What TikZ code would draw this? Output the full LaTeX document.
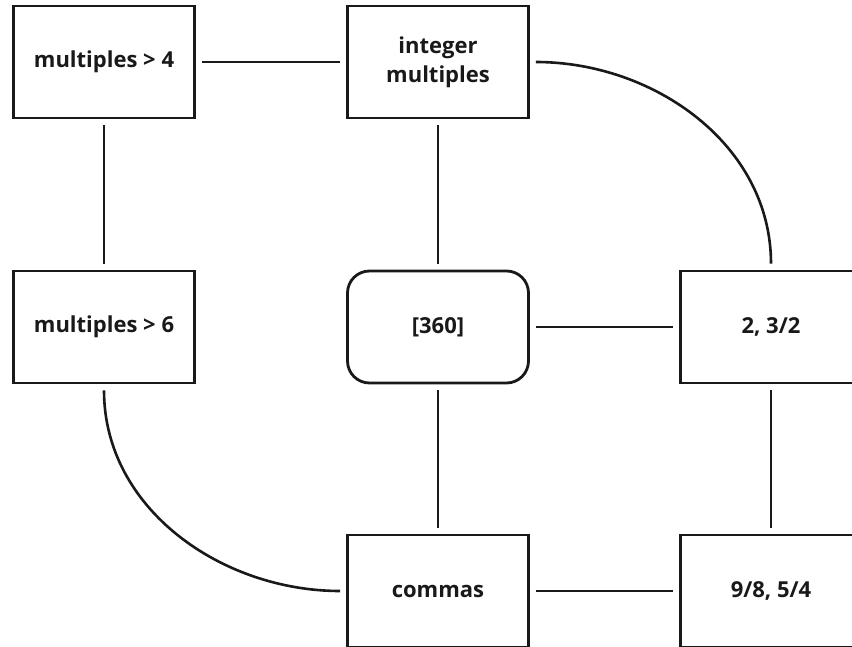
\documentclass[tikz,border=0pt]{standalone}
\usepackage{fontspec}
\setmainfont{Open Sans}
\usetikzlibrary{positioning}

\tikzset{
  box/.style={draw, line width=2.8pt, minimum width=181pt, minimum height=112pt,
    align=center, font=\fontsize{22}{29}\selectfont\bfseries, text=black!90},
  rbox/.style={box, rounded corners=22pt},
  link/.style={line width=2.6pt, shorten >=6pt, shorten <=6pt}
}

\begin{document}
\begin{tikzpicture}[x=1pt, y=-1pt, color=black!90]
    \useasboundingbox (0,0) rectangle (852,647);
    \clip (0,0) rectangle (852,647);

    % Top row
    \node[box] (mfour) at (104,62) {multiples > 4};
    \node[box] (intmul) at (438,62) {integer\\multiples};

    % Middle row
    \node[box] (msix) at (104,327) {multiples > 6};
    \node[rbox] (full) at (438,327) {[360]};
    \node[box] (octave) at (771,327) {2, 3/2};

    % Bottom row
    \node[box] (commas) at (438,591) {commas};
    \node[box] (steps) at (771,591) {9/8, 5/4};

    % Straight links
    \draw[link] (mfour) -- (intmul);
    \draw[link] (mfour) -- (msix);
    \draw[link] (intmul) -- (full);
    \draw[link] (full) -- (octave);
    \draw[link] (full) -- (commas);
    \draw[link] (octave) -- (steps);
    \draw[link] (commas) -- (steps);

    % Curved links
    \draw[link] (intmul.east) to[out=0, in=90] (octave.north);
    \draw[link] (msix.south) to[out=-90, in=180] (commas.west);
\end{tikzpicture}
\end{document}
